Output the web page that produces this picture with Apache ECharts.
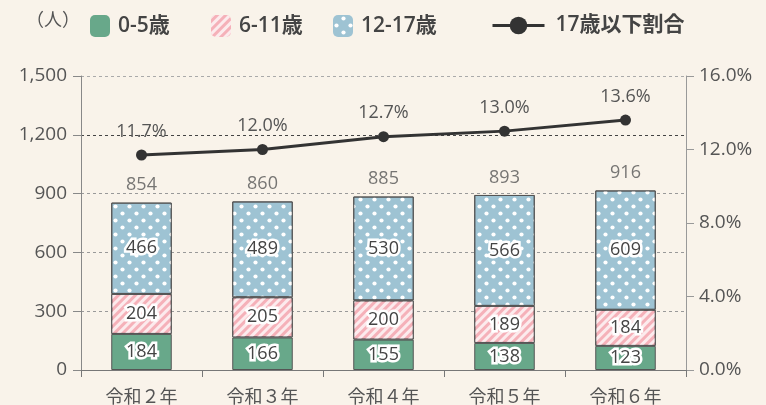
<!DOCTYPE html>
<html><head><meta charset="utf-8">
<script src="https://cdn.jsdelivr.net/npm/echarts@6/dist/echarts.min.js"></script>
<style>html,body{margin:0;padding:0;background:#f9f3ea}#c{width:766px;height:405px}</style>
</head><body><div id="c"></div>
<script>
const categories = ['令和２年','令和３年','令和４年','令和５年','令和６年'];
const age0to5 = [184,166,155,138,123];
const age6to11 = [204,205,200,189,184];
const age12to17 = [466,489,530,566,609];
const totals = [854,860,885,893,916];
const ratio = [11.7,12.0,12.7,13.0,13.6];
const seriesNames = ['0-5歳','6-11歳','12-17歳','17歳以下割合'];

const FONT = "'Open Sans', 'Noto Sans CJK JP', sans-serif";
const CJK = "'Noto Sans CJK JP', sans-serif";
const chart = echarts.init(document.getElementById('c'), null, {renderer:'canvas'});
const innerLabel = {show:true, position:'inside', color:'#444', fontSize:18, fontFamily:FONT, textBorderColor:'#fff', textBorderWidth:5};
const legText = {fontSize:21, fontWeight:600, color:'#444', fontFamily:FONT, padding:[0,0,0,3]};
const legLefts = [85, 206, 328];
chart.setOption({
  backgroundColor:'#f9f3ea',
  animation:false,
  textStyle:{fontFamily:FONT},
  grid:{left:81, right:80, top:76, bottom:35},
  graphic:[{type:'text', left:26, top:10, style:{text:'（人）', fontSize:18, fill:'#555', fontFamily:CJK}}],
  legend:[0,1,2].map(i=>({data:[seriesNames[i]], left:legLefts[i], top:10, itemWidth:20, itemHeight:22,
      textStyle:legText, itemStyle:{borderWidth:0}})).concat([
    {data:[seriesNames[3]], left:486, top:10, itemWidth:52, itemHeight:22,
     lineStyle:{width:3}, textStyle:Object.assign({}, legText, {padding:[0,0,0,6]})}
  ]),
  xAxis:{type:'category', data:categories,
    axisLine:{lineStyle:{color:'#777', width:1.2}},
    axisTick:{show:true, length:7, lineStyle:{color:'#777'}},
    axisLabel:{fontSize:18, color:'#555', margin:17, fontFamily:CJK}},
  yAxis:[
    {type:'value', min:0, max:1500, interval:300,
     axisLine:{show:true, lineStyle:{color:'#888'}},
     axisTick:{show:true, length:8, lineStyle:{color:'#888'}},
     axisLabel:{fontSize:19, color:'#555', margin:14, formatter:v=>v.toLocaleString('en-US')},
     splitLine:{lineStyle:{type:[3,3], color:['#999','#999','#999','#999','#444','#aaa']}}},
    {type:'value', min:0, max:16, interval:4,
     axisLine:{show:true, lineStyle:{color:'#999'}},
     axisTick:{show:true, length:8, lineStyle:{color:'#999'}},
     axisLabel:{fontSize:19, color:'#555', margin:13, formatter:v=>v.toFixed(1)+'%'},
     splitLine:{show:false}}
  ],
  series:[
    {name:seriesNames[0], type:'bar', stack:'a', barWidth:'50%', data:age0to5,
     itemStyle:{color:'#68a88a', borderColor:'#555', borderWidth:1}, label:innerLabel},
    {name:seriesNames[1], type:'bar', stack:'a', data:age6to11,
     itemStyle:{color:'#f5b1b9', borderColor:'#555', borderWidth:1,
       decal:{symbol:'rect', color:'rgba(255,255,255,0.75)', dashArrayX:[1,0], dashArrayY:[2.5,2.5], rotation:-Math.PI/4}},
     label:innerLabel},
    {name:seriesNames[2], type:'bar', stack:'a', data:age12to17,
     itemStyle:{color:'#9ec3d3', borderColor:'#555', borderWidth:1,
       decal:{symbol:'circle', color:'#ffffff', dashArrayX:[[6.5,6.5],[0,6.5,6.5,0]], dashArrayY:[6.7,0], symbolSize:0.6}},
     label:innerLabel},
    {name:'total', type:'scatter', data:totals, symbolSize:1, itemStyle:{color:'rgba(0,0,0,0)'},
     label:{show:true, position:'top', distance:8, fontSize:18, color:'#555', fontFamily:FONT}},
    {name:seriesNames[3], type:'line', yAxisIndex:1, data:ratio, symbol:'circle', symbolSize:11,
     itemStyle:{color:'#333'}, lineStyle:{color:'#333', width:3},
     label:{show:true, position:'top', distance:9, fontSize:18, color:'#555', fontFamily:FONT, formatter:p=>p.value.toFixed(1)+'%'}}
  ]
});
</script></body></html>
